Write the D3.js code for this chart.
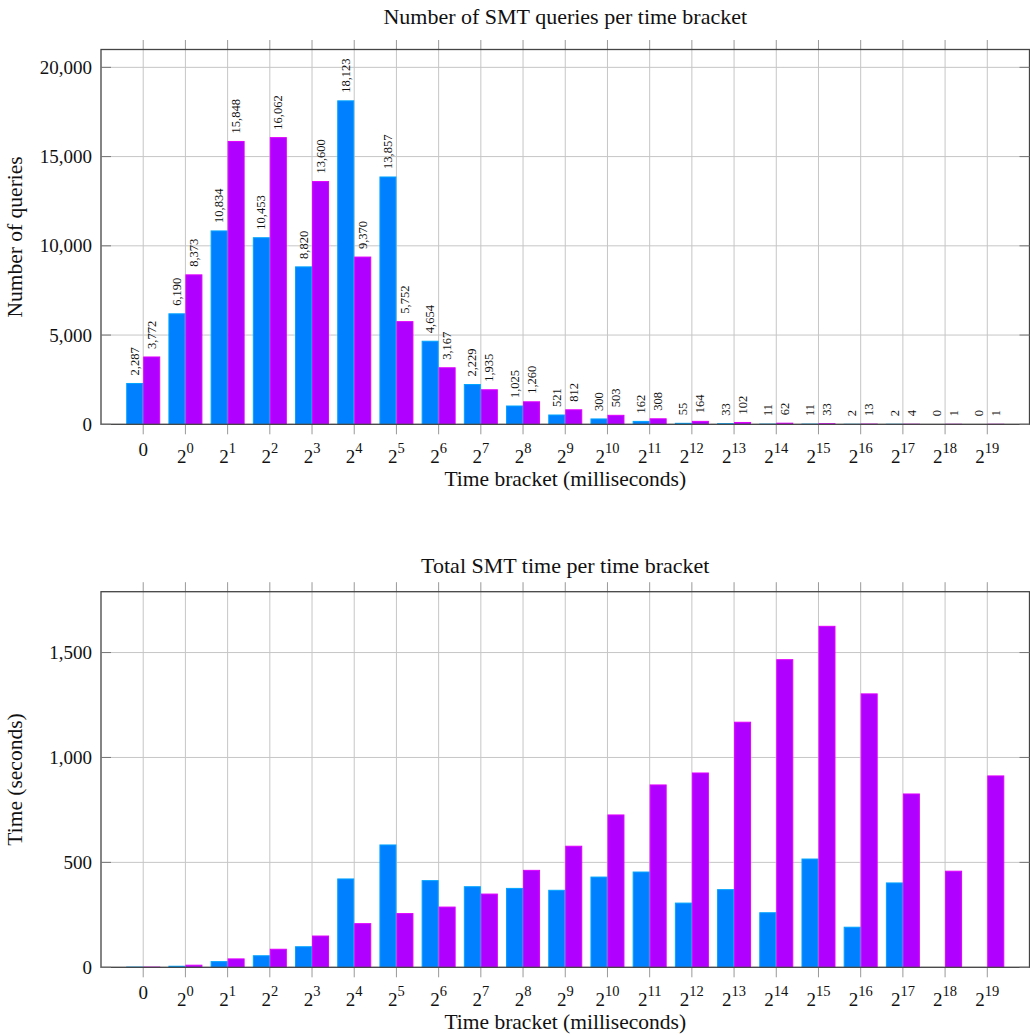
<!DOCTYPE html>
<html>
<head>
<meta charset="utf-8">
<script src="https://cdn.jsdelivr.net/npm/d3@7"></script>
<style>
  html, body { margin: 0; padding: 0; background: #fff; }
  svg { display: block; }
  text { font-family: "Liberation Serif", "DejaVu Serif", serif; fill: #111; }
</style>
</head>
<body>
<svg id="chart" width="1030" height="1035"></svg>
<script>
// ---- data ----
const categories = ["0","2^0","2^1","2^2","2^3","2^4","2^5","2^6","2^7","2^8","2^9",
  "2^10","2^11","2^12","2^13","2^14","2^15","2^16","2^17","2^18","2^19"];
const seriesNames = ["A", "B"];
const queriesA = [2287,6190,10834,10453,8820,18123,13857,4654,2229,1025,521,300,162,55,33,11,11,2,2,0,0];
const queriesB = [3772,8373,15848,16062,13600,9370,5752,3167,1935,1260,812,503,308,164,102,62,33,13,4,1,1];
const timeA = [1,5,27,55,98,421,583,413,384,376,367,430,454,306,370,260,516,191,402,0,0];
const timeB = [1,10,40,86,149,208,256,287,349,462,577,726,869,926,1168,1466,1625,1303,826,458,912];
const queryTicks = [0,5000,10000,15000,20000];
const timeTicks = [0,500,1000,1500];

const colors = { A: "#0080ff", B: "#b000ff" };
const svg = d3.select("#chart");
const fmt = d3.format(",");

const plotLeft = 101, plotRight = 1029.5;

function drawChart(cfg) {
  const g = svg.append("g");
  const x = d3.scalePoint().domain(categories).range([plotLeft, plotRight]).padding(1);
  const xs = d3.scaleBand().domain(seriesNames).range([-17, 17]).padding(0);
  const y = d3.scaleLinear().domain([0, cfg.ymax]).range([cfg.bottom, cfg.top]);

  // grid
  g.append("g").selectAll("line").data(categories).join("line")
    .attr("x1", d => x(d)).attr("x2", d => x(d))
    .attr("y1", cfg.top).attr("y2", cfg.bottom)
    .attr("stroke", "#c6c6c6").attr("stroke-width", 1);
  g.append("g").selectAll("line").data(cfg.ticks).join("line")
    .attr("x1", plotLeft).attr("x2", plotRight)
    .attr("y1", d => y(d)).attr("y2", d => y(d))
    .attr("stroke", "#c6c6c6").attr("stroke-width", 1);

  // outside x ticks top and bottom
  g.append("g").selectAll("line").data(categories).join("line")
    .attr("x1", d => x(d)).attr("x2", d => x(d))
    .attr("y1", cfg.top - 9.5).attr("y2", cfg.top)
    .attr("stroke", "#999").attr("stroke-width", 1);
  g.append("g").selectAll("line").data(categories).join("line")
    .attr("x1", d => x(d)).attr("x2", d => x(d))
    .attr("y1", cfg.bottom).attr("y2", cfg.bottom + 10)
    .attr("stroke", "#999").attr("stroke-width", 1);

  // bars
  const rows = categories.map((c, i) => ({ c, i, vals: [cfg.a[i], cfg.b[i]] }));
  const groups = g.append("g").selectAll("g").data(rows).join("g")
    .attr("transform", d => `translate(${x(d.c)},0)`);
  groups.selectAll("rect").data(d => seriesNames.map((s, k) => ({ s, v: d.vals[k] }))).join("rect")
    .attr("x", d => xs(d.s) + 0.5)
    .attr("width", xs.bandwidth() - 1)
    .attr("y", d => y(d.v))
    .attr("height", d => Math.max(0, cfg.bottom - y(d.v)))
    .attr("fill", d => colors[d.s])
    .attr("stroke", d => d3.color(colors[d.s]).brighter(0.7))
    .attr("stroke-width", 1);

  if (cfg.valueLabels) {
    groups.selectAll("text").data(d => seriesNames.map((s, k) => ({ s, v: d.vals[k] }))).join("text")
      .attr("transform", d => `translate(${xs(d.s) + xs.bandwidth() / 2},${y(d.v) - 8}) rotate(-90)`)
      .attr("dy", "0.33em")
      .attr("text-anchor", "start")
      .attr("font-size", 12.5)
      .text(d => fmt(d.v));
  }

  // frame
  g.append("rect")
    .attr("x", plotLeft).attr("y", cfg.top)
    .attr("width", plotRight - plotLeft).attr("height", cfg.bottom - cfg.top)
    .attr("fill", "none").attr("stroke", "#444").attr("stroke-width", 1.3);

  // inside y ticks both sides
  g.append("g").selectAll("line").data(cfg.ticks).join("line")
    .attr("x1", plotLeft).attr("x2", plotLeft + 10)
    .attr("y1", d => y(d)).attr("y2", d => y(d))
    .attr("stroke", "#777").attr("stroke-width", 1);
  g.append("g").selectAll("line").data(cfg.ticks).join("line")
    .attr("x1", plotRight - 10).attr("x2", plotRight)
    .attr("y1", d => y(d)).attr("y2", d => y(d))
    .attr("stroke", "#777").attr("stroke-width", 1);

  // y tick labels
  g.append("g").selectAll("text").data(cfg.ticks).join("text")
    .attr("x", plotLeft - 9).attr("y", d => y(d))
    .attr("dy", "0.34em")
    .attr("text-anchor", "end")
    .attr("font-size", 19)
    .text(d => fmt(d));

  // x tick labels
  const xl = g.append("g").selectAll("text").data(categories).join("text")
    .attr("x", d => x(d))
    .attr("y", d => d.includes("^") ? cfg.bottom + 38.3 : cfg.bottom + 31.5)
    .attr("text-anchor", "middle")
    .attr("font-size", 19);
  xl.each(function (d) {
    const t = d3.select(this);
    if (d.includes("^")) {
      const [b, e] = d.split("^");
      t.append("tspan").text(b);
      t.append("tspan").attr("font-size", 14.5).attr("dy", -9.4).text(e);
    } else {
      t.text(d);
    }
  });

  // titles and axis labels
  g.append("text")
    .attr("x", (plotLeft + plotRight) / 2).attr("y", cfg.titleY)
    .attr("text-anchor", "middle").attr("font-size", 22)
    .text(cfg.title);
  g.append("text")
    .attr("x", (plotLeft + plotRight) / 2).attr("y", cfg.bottom + 62)
    .attr("text-anchor", "middle").attr("font-size", 21.5)
    .text("Time bracket (milliseconds)");
  g.append("text")
    .attr("transform", `translate(21.5,${(cfg.top + cfg.bottom) / 2}) rotate(-90)`)
    .attr("text-anchor", "middle").attr("font-size", 21.5)
    .text(cfg.ylabel);
}

drawChart({
  top: 49.5, bottom: 424.3, ymax: 21000, ticks: queryTicks,
  a: queriesA, b: queriesB, valueLabels: true,
  title: "Number of SMT queries per time bracket", titleY: 23.5,
  ylabel: "Number of queries"
});
drawChart({
  top: 591.7, bottom: 967.3, ymax: 1790, ticks: timeTicks,
  a: timeA, b: timeB, valueLabels: false,
  title: "Total SMT time per time bracket", titleY: 573.3,
  ylabel: "Time (seconds)"
});
</script>
</body>
</html>
